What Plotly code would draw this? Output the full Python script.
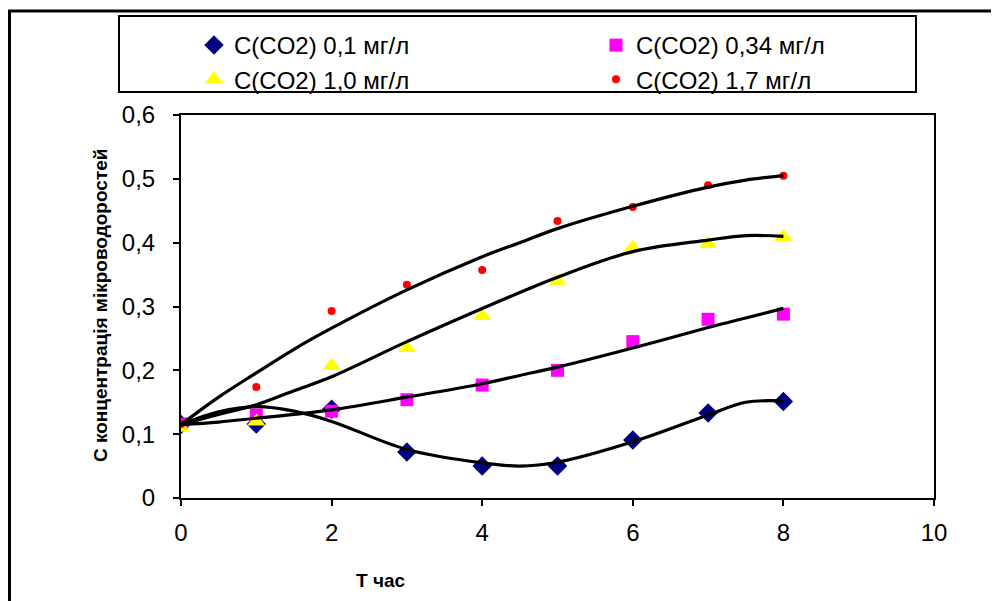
import plotly.graph_objects as go

hours = [0, 1, 2, 3, 4, 5, 6, 7, 8]
c01 = [0.115, 0.116, 0.139, 0.072, 0.050, 0.050, 0.091, 0.133, 0.151]
c034 = [0.116, 0.130, 0.136, 0.154, 0.177, 0.200, 0.245, 0.280, 0.288]
c10 = [0.110, 0.120, 0.207, 0.235, 0.285, 0.339, 0.392, 0.398, 0.409]
c17 = [0.116, 0.174, 0.293, 0.334, 0.357, 0.434, 0.456, 0.490, 0.505]

fit_x = [0, 0.5, 1, 1.5, 2, 3, 4, 4.5, 5, 6, 7, 7.5, 8]
fit01 = [0.115, 0.135, 0.143, 0.136, 0.120, 0.076, 0.055, 0.050, 0.056, 0.088, 0.130, 0.150, 0.152]
fit034 = [0.115, 0.119, 0.125, 0.131, 0.138, 0.158, 0.179, 0.192, 0.205, 0.235, 0.267, 0.282, 0.297]
fit10 = [0.115, 0.131, 0.146, 0.168, 0.190, 0.245, 0.297, 0.322, 0.346, 0.386, 0.404, 0.411, 0.410]
fit17 = [0.115, 0.158, 0.196, 0.233, 0.266, 0.326, 0.378, 0.400, 0.422, 0.457, 0.487, 0.498, 0.505]

x_ticks = [0, 2, 4, 6, 8, 10]
y_ticks = [0, 0.1, 0.2, 0.3, 0.4, 0.5, 0.6]
y_tick_labels = ["0", "0,1", "0,2", "0,3", "0,4", "0,5", "0,6"]

names = ["C(CO2) 0,1 мг/л", "C(CO2) 0,34 мг/л", "C(CO2) 1,0 мг/л", "C(CO2) 1,7 мг/л"]
pts = [c01, c034, c10, c17]
fits = [fit01, fit034, fit10, fit17]
symbols = ["diamond", "square", "triangle-up", "circle"]
colors = ["#000080", "#FF00FF", "#FFFF00", "#FF0000"]
sizes = [15, 13, 16, 8]
legend_ids = ["legend", "legend2", "legend", "legend2"]

fig = go.Figure()
for n, p, s, c, sz, lg in zip(names, pts, symbols, colors, sizes, legend_ids):
    fig.add_trace(go.Scatter(x=hours, y=p, mode="markers", name=n, legend=lg,
                             marker=dict(symbol=s, color=c, size=sz, line=dict(width=0))))
for f in fits:
    fig.add_trace(go.Scatter(x=fit_x, y=f, mode="lines", line=dict(color="black", width=3.2, shape="spline"),
                             showlegend=False, hoverinfo="skip"))

font_main = "Liberation Sans, Arial, sans-serif"
W, H = 991, 593
L, T, PW, PH = 173, 107, 753, 383
B = T + PH


def px(fx):
    return (fx - L) / PW


def py(fy):
    return (B - fy) / PH


leg_common = dict(orientation="v", xref="container", yref="container", xanchor="left", yanchor="top",
                  font=dict(size=24), bgcolor="rgba(0,0,0,0)", tracegroupgap=0, borderwidth=0)

fig.update_layout(
    width=W, height=H,
    margin=dict(l=L, r=W - L - PW, t=T, b=H - B, autoexpand=False),
    paper_bgcolor="white", plot_bgcolor="white",
    font=dict(family=font_main, size=24, color="black"),
    legend=dict(x=186 / W, y=1 - 15 / H, **leg_common),
    legend2=dict(x=588 / W, y=1 - 15 / H, **leg_common),
    xaxis=dict(range=[0, 10], tickvals=x_ticks, showline=True, linecolor="black", linewidth=2,
               mirror=True, ticks="outside", ticklen=6, tickcolor="black", tickwidth=2, showgrid=False,
               zeroline=False, ticklabelstandoff=6),
    yaxis=dict(range=[0, 0.6], tickvals=y_ticks, ticktext=y_tick_labels,
               showline=True, linecolor="black", linewidth=2, mirror=True, ticks="outside", ticklen=6,
               tickcolor="black", tickwidth=2, showgrid=False, zeroline=False, ticklabelstandoff=13),
    shapes=[
        dict(type="rect", xref="paper", yref="paper", x0=px(1.5), x1=px(W + 20), y0=py(H + 20), y1=py(3),
             line=dict(color="black", width=3), layer="below"),
        dict(type="rect", xref="paper", yref="paper", x0=px(111), x1=px(908), y0=py(84), y1=py(8),
             line=dict(color="black", width=2), layer="below"),
    ],
    annotations=[
        dict(text="<b>С концентрація мікроводоростей</b>", xref="paper", yref="paper",
             x=px(92), y=py(298), xanchor="center", yanchor="middle", textangle=-90, showarrow=False,
             font=dict(family=font_main, size=19)),
        dict(text="<b>Т час</b>", xref="paper", yref="paper", x=px(372), y=py(572),
             xanchor="center", yanchor="middle", showarrow=False, font=dict(family=font_main, size=19)),
    ],
)
fig.write_html("out.html")
